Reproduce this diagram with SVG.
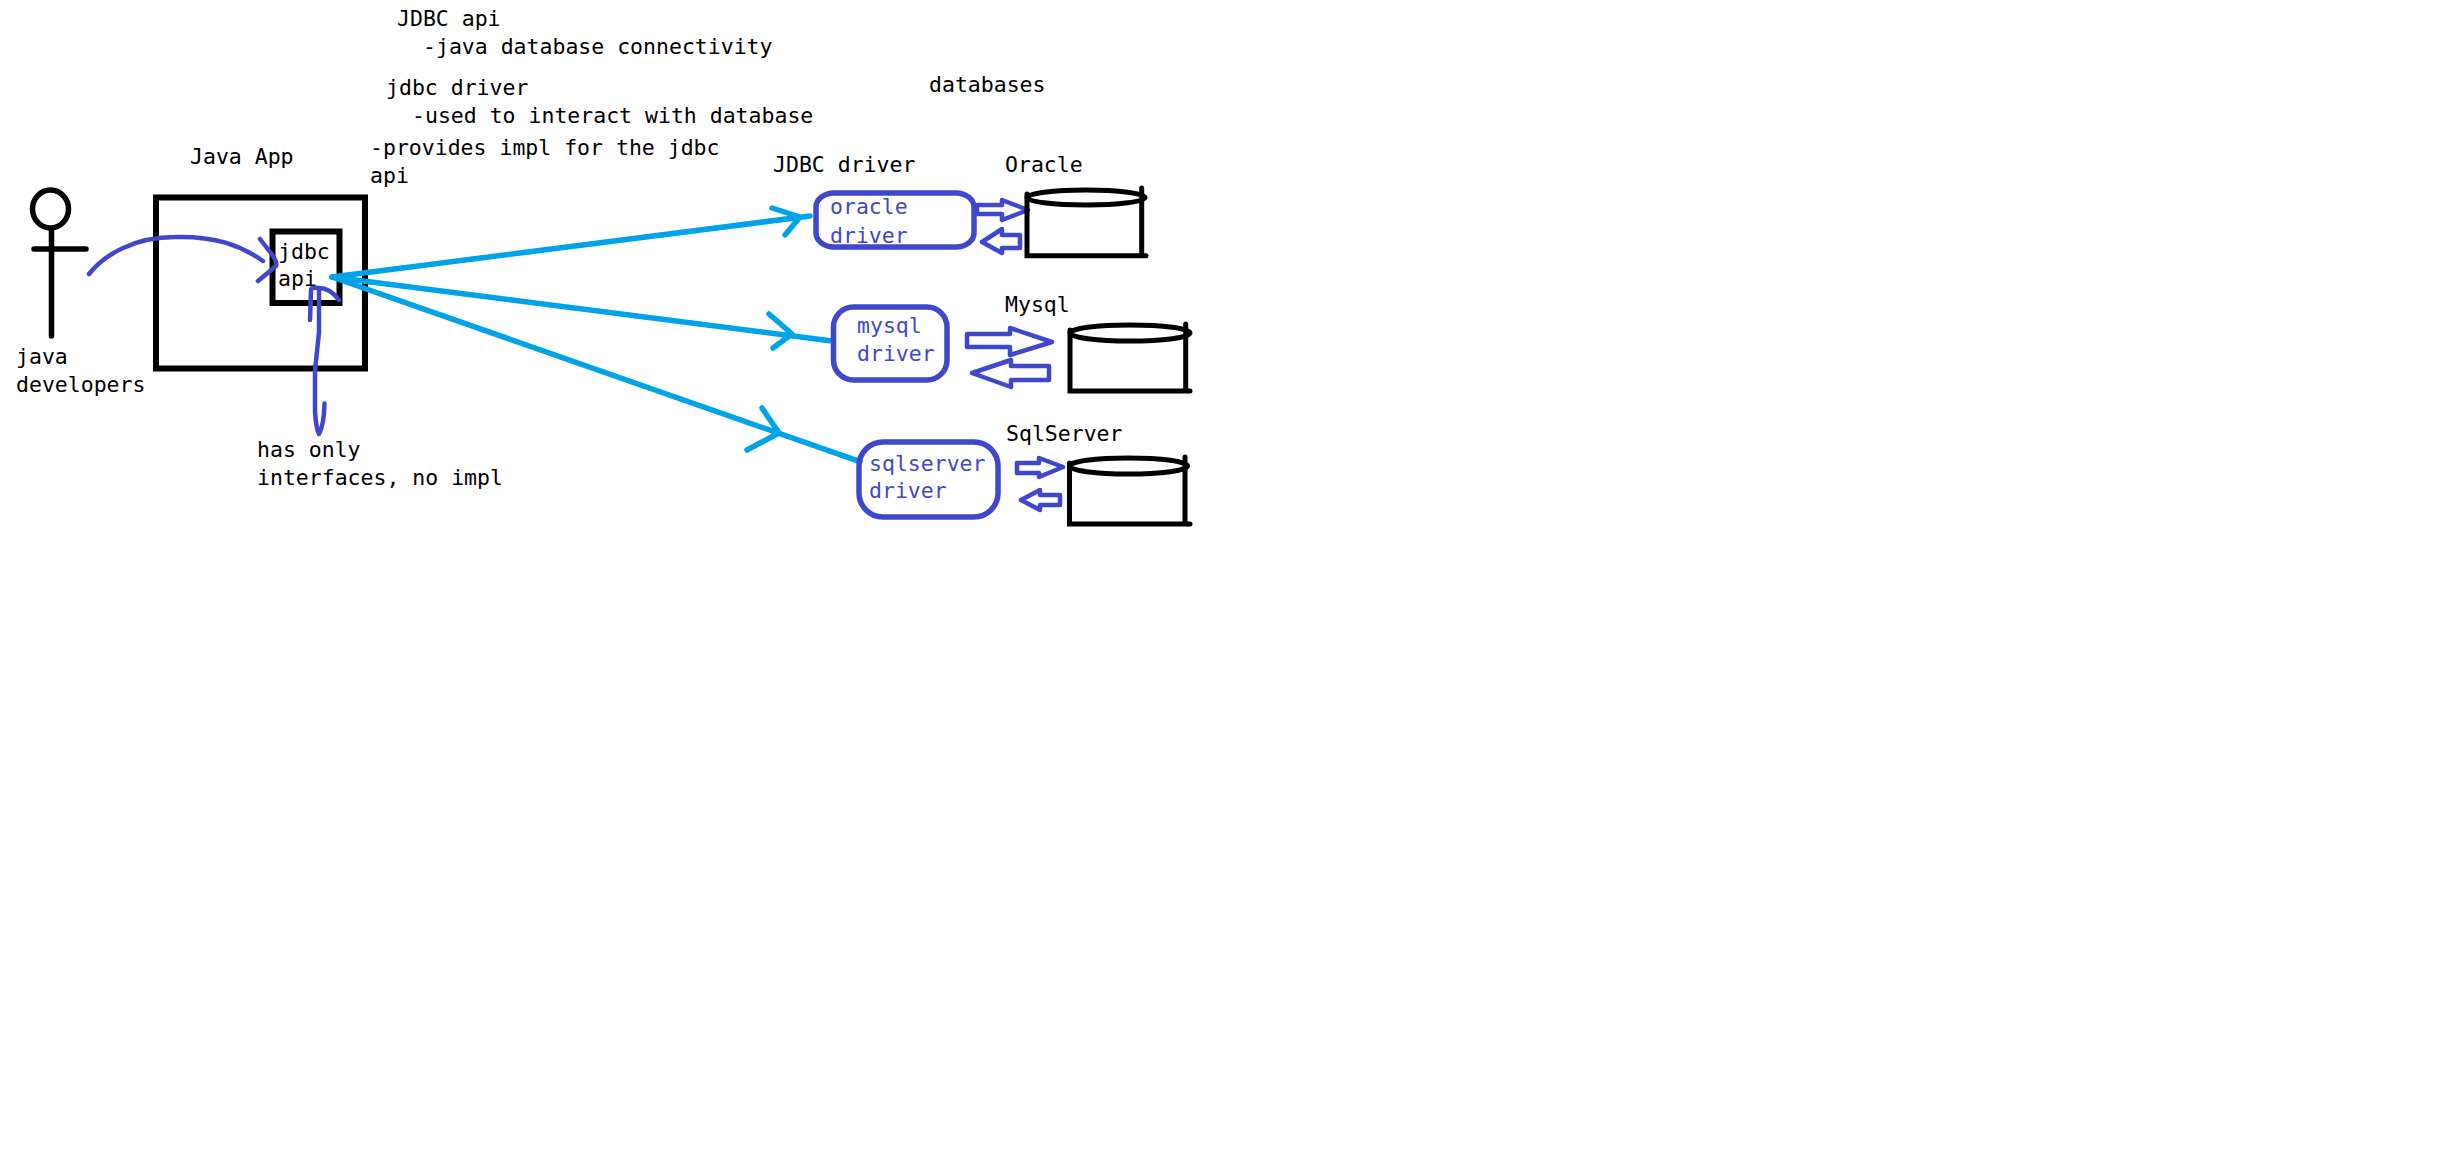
<svg xmlns="http://www.w3.org/2000/svg" width="2440" height="1176" viewBox="0 0 2440 1176">
<style>
text{font-family:"DejaVu Sans Mono","Liberation Mono",monospace;font-size:21.5px;fill:#000}
text.b{fill:#3f48cc}
.k{fill:none;stroke:#000;stroke-linecap:round;stroke-linejoin:miter}
.i{fill:none;stroke:#3f48cc;stroke-width:4.500;stroke-linecap:round;stroke-linejoin:round}
.c{fill:none;stroke:#00a2e8;stroke-width:5.500;stroke-linecap:round;stroke-linejoin:round}
.db{fill:none;stroke:#000;stroke-width:5;stroke-linecap:round}
</style>
<rect width="2440" height="1176" fill="#fff"/>
<g id="notes">
<text x="397" y="26">JDBC api</text>
<text x="423" y="54">-java database connectivity</text>
<text x="386" y="95">jdbc driver</text>
<text x="412" y="123">-used to interact with database</text>
<text x="370" y="155">-provides impl for the jdbc</text>
<text x="370" y="183">api</text>
<text x="929" y="92">databases</text>
<text x="773" y="172">JDBC driver</text>
<text x="257" y="457">has only</text>
<text x="257" y="485">interfaces, no impl</text>
</g>
<g id="actor">
<ellipse class="k" stroke-width="5.500" cx="50.500" cy="209" rx="18" ry="19"/>
<path class="k" stroke-width="5.500" d="M51.500 229V336M34 249H86"/>
<text x="16" y="364">java</text>
<text x="16" y="392">developers</text>
</g>
<g id="java-app">
<rect class="k" stroke-width="6" x="156" y="197.500" width="209" height="171"/>
<text x="190" y="164">Java App</text>
</g>
<g id="jdbc-api">
<rect class="k" stroke-width="6" x="272.500" y="231.500" width="67" height="71.500"/>
<text x="278" y="259">jdbc</text>
<text x="278" y="286">api</text>
</g>
<g id="connectors">
<path class="i" d="M89 274C105 254 135 237 175 237C215 236 240 245 263 261"/>
<path class="i" d="M260 239L270 252Q278 262 276 266L258 281"/>
<path class="i" d="M339 300Q330 288 319 288Q311 287 311 290L310 320"/>
<path class="i" d="M319 289L319 332L315 371L315 411Q316 428 319 434Q324 425 324.500 403.500"/>
<path class="c" d="M332 277L810 216M772 208L800 217L785 235"/>
<path class="c" d="M332 277L830 340.700M769 314L792 334L773 348"/>
<path class="c" d="M332 277L860 461.700M762 408L779 433L747 450"/>
<path class="i" d="M977 205H1002V200L1028 210L1002 220V214H977Z"/>
<path class="i" d="M1020 235H1002V229L982 242L1002 253V248H1020Z"/>
<path class="i" d="M967 334H1010V328L1052 342L1010 355V347H967Z"/>
<path class="i" d="M1049 366H1011V360L972 373L1011 387V380H1049Z"/>
<path class="i" d="M1017 463H1039V458L1063 467L1039 477V473H1017Z"/>
<path class="i" d="M1060 495H1040V490L1021 500L1040 510V505H1060Z"/>
</g>
<g id="oracle-driver">
<rect x="816" y="193" width="158" height="54" rx="18" ry="14" fill="none" stroke="#3f48cc" stroke-width="5.500"/>
<text class="b" x="830" y="214">oracle</text>
<text class="b" x="830" y="243">driver</text>
</g>
<g id="mysql-driver">
<rect x="833.500" y="307" width="113.500" height="73" rx="20" ry="20" fill="none" stroke="#3f48cc" stroke-width="5.500"/>
<text class="b" x="857" y="333">mysql</text>
<text class="b" x="857" y="361">driver</text>
</g>
<g id="sqlserver-driver">
<rect x="859" y="442" width="139" height="75" rx="24" ry="24" fill="none" stroke="#3f48cc" stroke-width="5.500"/>
<text class="b" x="869" y="471">sqlserver</text>
<text class="b" x="869" y="498">driver</text>
</g>
<g id="oracle-db">
<text x="1005" y="172">Oracle</text>
<ellipse class="db" cx="1086" cy="197.500" rx="59" ry="7.500"/>
<path class="db" d="M1027 194V255.700H1146M1141.700 188V255"/>
</g>
<g id="mysql-db">
<text x="1005" y="312">Mysql</text>
<ellipse class="db" cx="1130" cy="333" rx="60" ry="8"/>
<path class="db" d="M1070 330V391H1190M1185.700 324V391"/>
</g>
<g id="sqlserver-db">
<text x="1006" y="441">SqlServer</text>
<ellipse class="db" cx="1128.500" cy="466" rx="59" ry="8"/>
<path class="db" d="M1069.500 463V524H1190M1185 457V524"/>
</g>
</svg>
